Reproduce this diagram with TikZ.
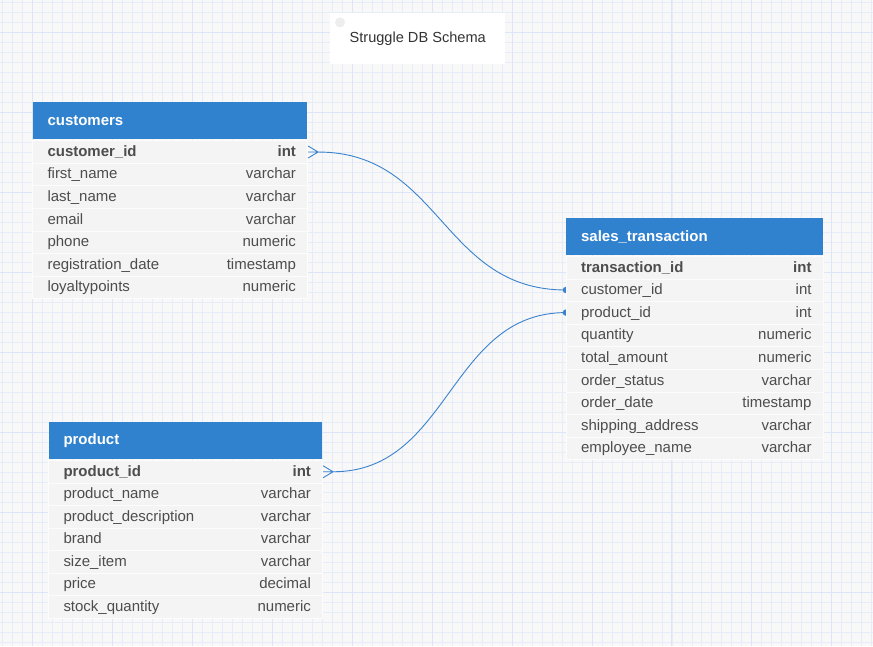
\documentclass[tikz,border=0pt]{standalone}
\usepackage{fontspec}
\setmainfont{Liberation Sans}
\usetikzlibrary{positioning}
\definecolor{canvas}{HTML}{F8F8F9}
\definecolor{gridminor}{HTML}{E6EDF9}
\definecolor{gridmajor}{HTML}{DCE6F8}
\definecolor{hdrblue}{HTML}{3182CE}
\definecolor{rowgray}{HTML}{F4F4F4}
\definecolor{rowline}{HTML}{FCFCFC}
\definecolor{txtgray}{HTML}{4D4D4D}
\definecolor{linkblue}{HTML}{3B82CC}
\definecolor{dotgray}{HTML}{EEEEEE}

\begin{document}
\begin{tikzpicture}[x=1pt,y=-1pt,
  hdr/.style={fill=hdrblue, text=white, font=\bfseries\fontsize{15}{17}\selectfont,
    text width=#1-30, inner xsep=15, inner ysep=0, minimum height=37,
    align=left, anchor=north west},
  row/.style={fill=rowgray, draw=rowline, line width=1, minimum width=#1,
    minimum height=22.6, inner sep=0, anchor=north west},
  lbl/.style={text=txtgray, font=\fontsize{15}{17}\selectfont, inner sep=0,
    text height=8.5, text depth=0},
  link/.style={draw=linkblue, line width=0.9}]

  % background and grid
  \fill[canvas] (0,0) rectangle (873,646);
  \foreach \x in {2,12,...,872} \draw[gridminor, line width=0.6] (\x,0) -- (\x,646);
  \foreach \y in {2,12,...,642} \draw[gridminor, line width=0.6] (0,\y) -- (873,\y);
  \foreach \x in {32,112,...,872} \draw[gridmajor, line width=0.7] (\x,0) -- (\x,646);
  \foreach \y in {32,112,...,642} \draw[gridmajor, line width=0.7] (0,\y) -- (873,\y);
  \useasboundingbox (0,0) rectangle (873,646);

  % title
  \node[fill=white, minimum width=175, minimum height=52, inner sep=0, anchor=north west]
    (title) at (330,12) {};
  \fill[dotgray] ([shift={(10,10)}]title.north west) circle (5);
  \node[text=black!80, font=\fontsize{14.6}{16}\selectfont] at ([yshift=-0.5]title.center) {Struggle DB Schema};

  % customers
  \node[hdr=275] (cust) at (32,102) {customers};
  \foreach \nm/\ty [count=\i] in {customer\_id/int, first\_name/varchar, last\_name/varchar,
      email/varchar, phone/numeric, registration\_date/timestamp, loyaltypoints/numeric} {
    \node[row=275] (cust-\i) at (32,{140+22.6*(\i-1)}) {};
    \node[lbl, anchor=west] at ([xshift=15]cust-\i.west) {\ifnum\i=1\bfseries\fi\nm};
    \node[lbl, anchor=east] at ([xshift=-12]cust-\i.east) {\ifnum\i=1\bfseries\fi\ty};
  }

  % product
  \node[hdr=274] (prod) at (48,422) {product};
  \foreach \nm/\ty [count=\i] in {product\_id/int, product\_name/varchar,
      product\_description/varchar, brand/varchar, size\_item/varchar, price/decimal,
      stock\_quantity/numeric} {
    \node[row=274] (prod-\i) at (48,{460+22.6*(\i-1)}) {};
    \node[lbl, anchor=west] at ([xshift=15]prod-\i.west) {\ifnum\i=1\bfseries\fi\nm};
    \node[lbl, anchor=east] at ([xshift=-12]prod-\i.east) {\ifnum\i=1\bfseries\fi\ty};
  }

  % links (drawn before the sales table so it hides half of the dots)
  \coordinate (cf1) at ([xshift=10]cust-1.east);
  \coordinate (cf2) at ([xshift=10]prod-1.east);
  \coordinate (sc) at (566,{256+22.6*1.5});
  \coordinate (sp) at (566,{256+22.6*2.5});
  \draw[link] ([yshift=-6]cust-1.east) -- (cf1) -- ([yshift=6]cust-1.east)
    (cust-1.east) -- (cf1) .. controls +(123,0) and +(-124,0) .. (sc);
  \draw[link] ([yshift=-6]prod-1.east) -- (cf2) -- ([yshift=6]prod-1.east)
    (prod-1.east) -- (cf2) .. controls +(117,0) and +(-117,0) .. (sp);
  \fill[linkblue] (sc) circle (3.2) (sp) circle (3.2);

  % sales_transaction
  \node[hdr=257] (sales) at (566,218) {sales\_transaction};
  \foreach \nm/\ty [count=\i] in {transaction\_id/int, customer\_id/int, product\_id/int,
      quantity/numeric, total\_amount/numeric, order\_status/varchar, order\_date/timestamp,
      shipping\_address/varchar, employee\_name/varchar} {
    \node[row=257] (sales-\i) at (566,{256+22.6*(\i-1)}) {};
    \node[lbl, anchor=west] at ([xshift=15]sales-\i.west) {\ifnum\i=1\bfseries\fi\nm};
    \node[lbl, anchor=east] at ([xshift=-12]sales-\i.east) {\ifnum\i=1\bfseries\fi\ty};
  }
\end{tikzpicture}
\end{document}
